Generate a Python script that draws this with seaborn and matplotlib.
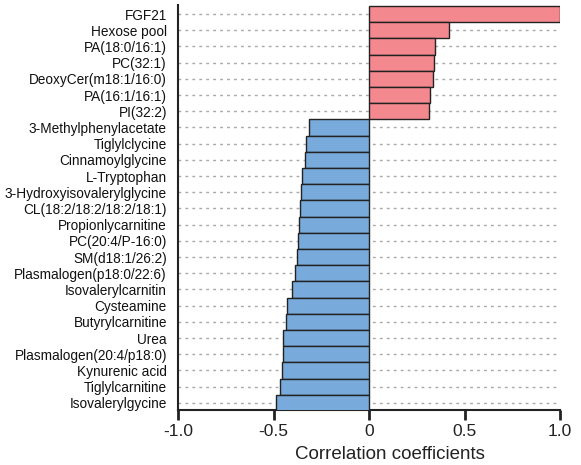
import matplotlib
matplotlib.use("Agg")
import matplotlib.pyplot as plt
import seaborn as sns
import pandas as pd

metabolites = [
    "FGF21", "Hexose pool", "PA(18:0/16:1)", "PC(32:1)", "DeoxyCer(m18:1/16:0)",
    "PA(16:1/16:1)", "PI(32:2)", "3-Methylphenylacetate", "Tiglylclycine",
    "Cinnamoylglycine", "L-Tryptophan", "3-Hydroxyisovalerylglycine",
    "CL(18:2/18:2/18:2/18:1)", "Propionlycarnitine", "PC(20:4/P-16:0)",
    "SM(d18:1/26:2)", "Plasmalogen(p18:0/22:6)", "Isovalerylcarnitin",
    "Cysteamine", "Butyrylcarnitine", "Urea", "Plasmalogen(20:4/p18:0)",
    "Kynurenic acid", "Tiglylcarnitine", "Isovalerylgycine",
]
coefficients = [
    1.00, 0.42, 0.347, 0.340, 0.337, 0.320, 0.313,
    -0.312, -0.328, -0.335, -0.349, -0.356, -0.363, -0.368, -0.372,
    -0.377, -0.386, -0.403, -0.429, -0.432, -0.450, -0.451, -0.457,
    -0.464, -0.486,
]
x_ticks = [-1.0, -0.5, 0.0, 0.5, 1.0]
x_tick_labels = ["-1.0", "-0.5", "0", "0.5", "1.0"]

df = pd.DataFrame({"name": metabolites, "r": coefficients})
df["sign"] = ["pos" if v > 0 else "neg" for v in df["r"]]

sns.set_style("white")
plt.rcParams["font.family"] = ["Liberation Sans", "DejaVu Sans"]

fig = plt.figure(figsize=(5.81, 4.65), dpi=100)
ax = fig.add_axes([178 / 581, 1 - 410 / 465, (560 - 178) / 581, (410 - 5) / 465])

sns.barplot(
    data=df, x="r", y="name", hue="sign",
    palette={"pos": "#F4888F", "neg": "#78AADB"},
    dodge=False, legend=False, width=1.0, saturation=1,
    edgecolor="#222222", linewidth=1.0, ax=ax, zorder=3,
)

ax.set_axisbelow(True)
ax.yaxis.grid(True, color="#a8a8a8", linestyle=(0, (2, 3)), linewidth=1.0, zorder=0)
ax.xaxis.grid(False)

ax.set_xlim(-1, 1)
ax.set_ylim(len(metabolites) - 0.56, -0.56)
ax.set_xticks(x_ticks)
ax.set_xticklabels(x_tick_labels, fontsize=12.5, color="#222222")
ax.tick_params(axis="x", bottom=True, direction="out", length=7, width=2,
               color="#222222", pad=3)
ax.tick_params(axis="y", left=False, length=0, labelsize=9.8,
               labelcolor="#111111", pad=8)
ax.set_xlabel("Correlation coefficients", fontsize=13.5, color="#222222")
ax.xaxis.set_label_coords(0.555, -0.09)
ax.set_ylabel("")

for side in ["top", "right"]:
    ax.spines[side].set_visible(False)
for side in ["left", "bottom"]:
    ax.spines[side].set_color("#222222")
    ax.spines[side].set_linewidth(1.5)

fig.savefig("out.png", dpi=100)
